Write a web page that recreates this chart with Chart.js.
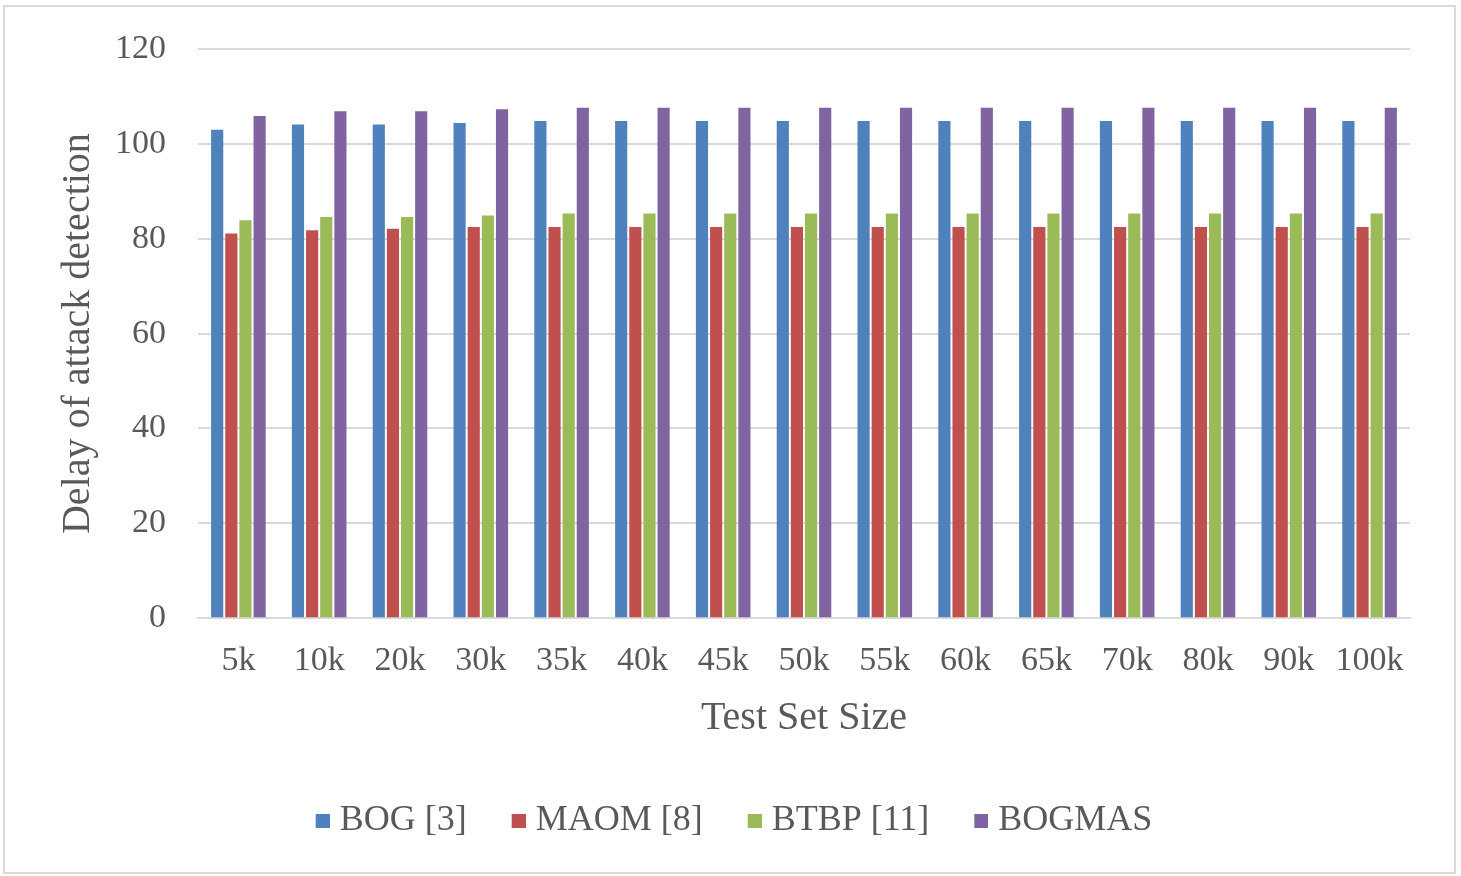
<!DOCTYPE html>
<html>
<head>
<meta charset="utf-8">
<script src="https://cdn.jsdelivr.net/npm/chart.js@4.4.1/dist/chart.umd.min.js"></script>
<style>
  html, body { margin: 0; padding: 0; background: #ffffff; }
  #wrap { width: 1461px; height: 876px; position: relative; }
</style>
</head>
<body>
<div id="wrap"><canvas id="chart" width="1461" height="876"></canvas></div>
<script>
// Test set sizes on the x axis
const categories = ['5k', '10k', '20k', '30k', '35k', '40k', '45k', '50k', '55k', '60k', '65k', '70k', '80k', '90k', '100k'];

// Delay of attack detection per method
const bogValues    = [103.0, 104.1, 104.1, 104.4, 104.8, 104.8, 104.8, 104.8, 104.8, 104.8, 104.8, 104.8, 104.8, 104.8, 104.8];
const maomValues   = [81.1, 81.8, 82.1, 82.5, 82.5, 82.5, 82.5, 82.5, 82.5, 82.5, 82.5, 82.5, 82.5, 82.5, 82.5];
const btbpValues   = [83.9, 84.6, 84.6, 84.9, 85.3, 85.3, 85.3, 85.3, 85.3, 85.3, 85.3, 85.3, 85.3, 85.3, 85.3];
const bogmasValues = [105.9, 106.9, 106.9, 107.3, 107.6, 107.6, 107.6, 107.6, 107.6, 107.6, 107.6, 107.6, 107.6, 107.6, 107.6];

const seriesNames = ['BOG [3]', 'MAOM [8]', 'BTBP [11]', 'BOGMAS'];
const yTicks = [0, 20, 40, 60, 80, 100, 120];

const colors = ['#4F81BD', '#C0504D', '#9BBB59', '#8064A2'];
const serif = "'Liberation Serif', 'Times New Roman', serif";
const textColor = '#595959';
const gridColor = '#D9D9D9';

// Legend swatches: a small square drawn at the right side of a wider
// transparent canvas, so the label text sits close to its square.
function makeSwatch(color) {
  const c = document.createElement('canvas');
  c.width = 30;
  c.height = 14;
  const g = c.getContext('2d');
  g.fillStyle = color;
  g.fillRect(16, 0, 14, 14);
  return c;
}
const swatches = colors.map(makeSwatch);

// Light frame around the whole figure
const framePlugin = {
  id: 'frame',
  afterDraw(chart) {
    const ctx = chart.ctx;
    ctx.save();
    ctx.strokeStyle = '#D9D9D9';
    ctx.lineWidth = 2;
    ctx.strokeRect(4, 6, 1451, 867);
    ctx.restore();
  }
};

new Chart(document.getElementById('chart'), {
  type: 'bar',
  data: {
    labels: categories,
    datasets: [bogValues, maomValues, btbpValues, bogmasValues].map((vals, i) => ({
      label: seriesNames[i],
      data: vals,
      backgroundColor: colors[i],
      borderWidth: 0,
      categoryPercentage: 0.7,
      barPercentage: 0.86
    }))
  },
  options: {
    responsive: false,
    animation: false,
    layout: { padding: { left: 50, right: 51, top: 20, bottom: 27 } },
    plugins: {
      legend: {
        position: 'bottom',
        labels: {
          font: { family: serif, size: 36 },
          color: textColor,
          usePointStyle: true,
          pointStyleWidth: 14,
          boxWidth: 14,
          boxHeight: 14,
          padding: 37,
          generateLabels(chart) {
            const items = Chart.defaults.plugins.legend.labels.generateLabels(chart);
            items.forEach((it, i) => { it.pointStyle = swatches[i]; });
            return items;
          }
        }
      },
      tooltip: { enabled: false }
    },
    scales: {
      x: {
        grid: { display: false, drawTicks: false },
        border: { color: gridColor, width: 2 },
        ticks: { font: { family: serif, size: 34 }, color: textColor, padding: 22, maxRotation: 0, autoSkip: false },
        title: { display: true, text: 'Test Set Size', font: { family: serif, size: 40, lineHeight: 1.0 }, color: textColor, padding: { top: -5, bottom: 28 } }
      },
      y: {
        min: 0,
        max: 120,
        afterBuildTicks(scale) { scale.ticks = yTicks.map(v => ({ value: v })); },
        afterFit(scale) { scale.width = 148; },
        grid: { color: gridColor, lineWidth: 2, drawTicks: false },
        border: { display: false },
        ticks: { font: { family: serif, size: 34, lineHeight: 1.0 }, color: textColor, padding: 32 },
        title: { display: true, text: 'Delay of attack detection', font: { family: serif, size: 40 }, color: textColor, padding: { top: 4, bottom: 0 } }
      }
    }
  },
  plugins: [framePlugin]
});
</script>
</body>
</html>
